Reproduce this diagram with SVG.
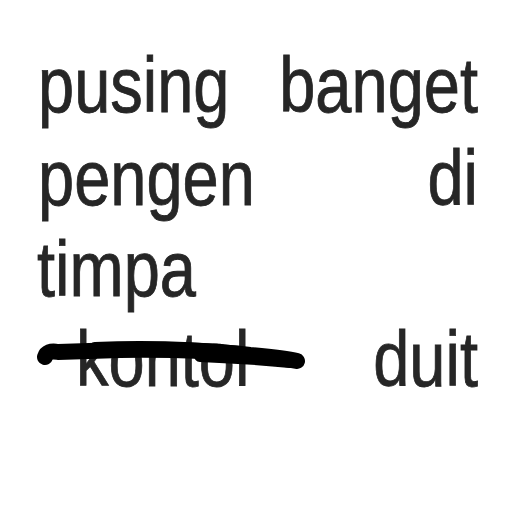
<svg xmlns="http://www.w3.org/2000/svg" width="512" height="512" viewBox="0 0 512 512">
<style>
.t{font-family:"Liberation Sans",Arial,sans-serif;font-size:65px;fill:#262626;stroke:#262626;stroke-width:0.7}
.e{text-anchor:end}
.s{fill:none;stroke:#000;stroke-linecap:round;stroke-linejoin:round}
</style>
<rect width="512" height="512" fill="#ffffff"/>
<text class="t" transform="translate(38,112) scale(1,1.2)">pusing</text>
<text class="t e" transform="translate(478,112) scale(1,1.2)">banget</text>
<text class="t" transform="translate(38,205) scale(1,1.2)">pengen</text>
<text class="t e" transform="translate(478,205) scale(1,1.2)">di</text>
<text class="t" transform="translate(37,296) scale(1,1.2)">timpa</text>
<text class="t" transform="translate(76,386) scale(1,1.2)">kontol</text>
<text class="t e" transform="translate(478,386) scale(1,1.2)">duit</text>
<path class="s" d="M45,357 Q47,350 58,352 L120,350 Q200,349 250,355 Q285,358 297,361" stroke-width="16"/>
<path class="s" d="M95,348 Q170,345 240,352" stroke-width="12"/>
<path class="s" d="M200,356 Q250,358 290,362" stroke-width="12"/>
</svg>
